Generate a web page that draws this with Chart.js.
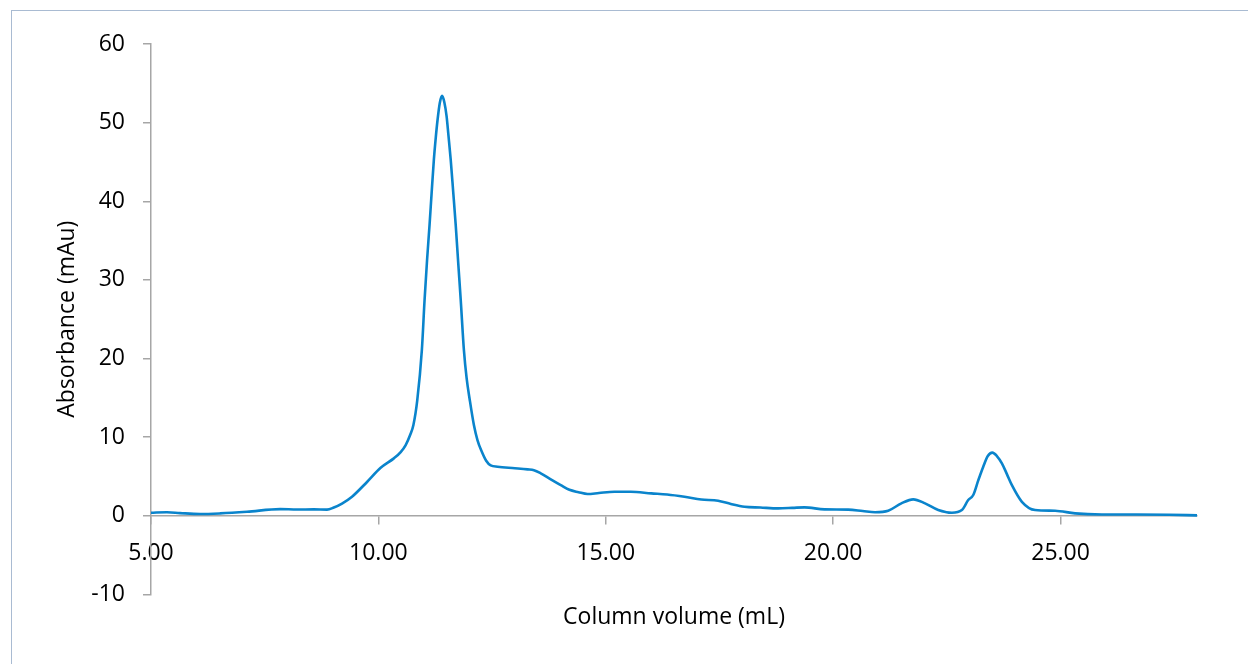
<!DOCTYPE html>
<html>
<head>
<meta charset="utf-8">
<script src="https://cdn.jsdelivr.net/npm/chart.js@4"></script>
<style>
  html, body { margin: 0; padding: 0; background: #ffffff; }
  #wrap { position: relative; width: 1248px; height: 664px; overflow: hidden; background: #ffffff; }
  #frame { position: absolute; left: 11px; top: 10px; width: 1300px; height: 700px; border: 1px solid #a9bbd2; box-sizing: border-box; }
  #c { position: absolute; left: 0; top: 0; }
</style>
</head>
<body>
<div id="wrap">
  <div id="frame"></div>
  <canvas id="c" width="1248" height="664"></canvas>
</div>
<script>
const volumes = [
  5.00, 5.35, 5.64, 6.08, 6.52, 7.11, 7.84, 8.21, 8.58, 8.87, 9.02, 9.20, 9.42, 9.75,
  10.05, 10.34, 10.49, 10.60, 10.70, 10.77, 10.855, 10.956, 11.016, 11.07, 11.125, 11.17,
  11.22, 11.26, 11.30, 11.35, 11.40, 11.45, 11.50, 11.54, 11.59, 11.645, 11.70, 11.755,
  11.81, 11.88, 11.94, 12.01, 12.10, 12.18, 12.27, 12.37, 12.47,
  12.62, 13.00, 13.28, 13.42, 13.57, 13.80, 14.01, 14.20, 14.40, 14.60, 14.85, 15.19,
  15.55, 16.00, 16.35, 16.73, 17.10, 17.47, 17.75, 18.05, 18.40, 18.79, 19.10, 19.37,
  19.81, 20.33, 20.65, 20.92, 21.21, 21.50, 21.76, 22.02, 22.31, 22.61, 22.83, 22.97,
  23.08, 23.19, 23.30, 23.40, 23.50, 23.60, 23.71, 23.82, 23.93, 24.15, 24.44, 24.88,
  25.32, 25.91, 26.65, 27.38, 28.00
];
const absorbance = [
  0.38, 0.45, 0.34, 0.22, 0.30, 0.51, 0.85, 0.80, 0.81, 0.78, 1.05, 1.55, 2.42, 4.30,
  6.10, 7.30, 8.10, 9.00, 10.30, 11.55, 14.70, 21.10, 27.50, 32.50, 37.00, 41.00,
  45.30, 48.00, 50.30, 52.50, 53.40, 52.60, 50.80, 48.40, 45.30, 41.20, 37.00, 32.20,
  27.50, 21.10, 17.50, 14.70, 11.55, 9.60, 8.20, 7.00, 6.40,
  6.24, 6.05, 5.90, 5.80, 5.40, 4.60, 3.90, 3.30, 3.00, 2.76, 2.90, 3.06,
  3.06, 2.85, 2.70, 2.42, 2.08, 1.91, 1.50, 1.15, 1.05, 0.94, 1.00, 1.07,
  0.81, 0.78, 0.60, 0.45, 0.64, 1.58, 2.09, 1.58, 0.73, 0.38, 0.73, 2.00,
  2.64, 4.50, 6.24, 7.60, 8.03, 7.60, 6.67, 5.30, 3.90, 1.78, 0.73, 0.64,
  0.30, 0.17, 0.17, 0.13, 0.05
];
const xTickValues = [5, 10, 15, 20, 25];
const yTickValues = [-10, 0, 10, 20, 30, 40, 50, 60];
const xTitle = 'Column volume (mL)';
const yTitle = 'Absorbance (mAu)';

const points = volumes.map((v, i) => ({ x: v, y: absorbance[i] }));
const FONT = '"Open Sans", Lato, "Liberation Sans", sans-serif';
const FS = 23;
const axisGray = '#a6a6a6';

new Chart(document.getElementById('c'), {
  type: 'scatter',
  data: {
    datasets: [{
      data: points,
      showLine: true,
      borderColor: '#0a84cc',
      backgroundColor: '#0a84cc',
      borderWidth: 2.6,
      pointRadius: 0,
      pointHoverRadius: 0,
      cubicInterpolationMode: 'monotone',
      fill: false
    }]
  },
  options: {
    responsive: false,
    animation: false,
    events: [],
    layout: { padding: { left: 0, right: 51, top: 44, bottom: 0 } },
    plugins: {
      legend: { display: false },
      tooltip: { enabled: false },
      title: {
        display: true,
        position: 'bottom',
        fullSize: false,
        text: xTitle,
        color: '#000000',
        font: { family: FONT, size: FS, weight: 'normal', lineHeight: 1.2 },
        padding: { top: 9, bottom: 33 }
      }
    },
    scales: {
      x: {
        type: 'linear',
        position: { y: 0 },
        min: 5,
        max: 28,
        afterBuildTicks: (scale) => { scale.ticks = xTickValues.map(v => ({ value: v })); },
        ticks: {
          includeBounds: false,
          color: '#000000',
          font: { family: FONT, size: FS },
          padding: 16,
          maxRotation: 0,
          autoSkip: false,
          callback: (v) => Number(v).toFixed(2)
        },
        grid: { drawOnChartArea: false, drawTicks: true, tickLength: 8, color: axisGray, tickColor: axisGray, lineWidth: 1.5 },
        border: { display: true, color: axisGray, width: 1.5 }
      },
      y: {
        type: 'linear',
        position: 'left',
        min: -10,
        max: 60,
        afterBuildTicks: (scale) => { scale.ticks = yTickValues.map(v => ({ value: v })); },
        afterFit: (scale) => { scale.width = 151; },
        ticks: {
          color: '#000000',
          font: { family: FONT, size: FS },
          padding: 18,
          autoSkip: false,
          callback: (v) => String(v)
        },
        grid: { drawOnChartArea: false, drawTicks: true, tickLength: 8, color: axisGray, tickColor: axisGray, lineWidth: 1.5 },
        border: { display: true, color: axisGray, width: 1.5 },
        title: {
          display: true,
          text: yTitle,
          color: '#000000',
          font: { family: FONT, size: FS, lineHeight: 1.2 },
          padding: { top: 54, bottom: 0 }
        }
      }
    }
  }
});
</script>
</body>
</html>
